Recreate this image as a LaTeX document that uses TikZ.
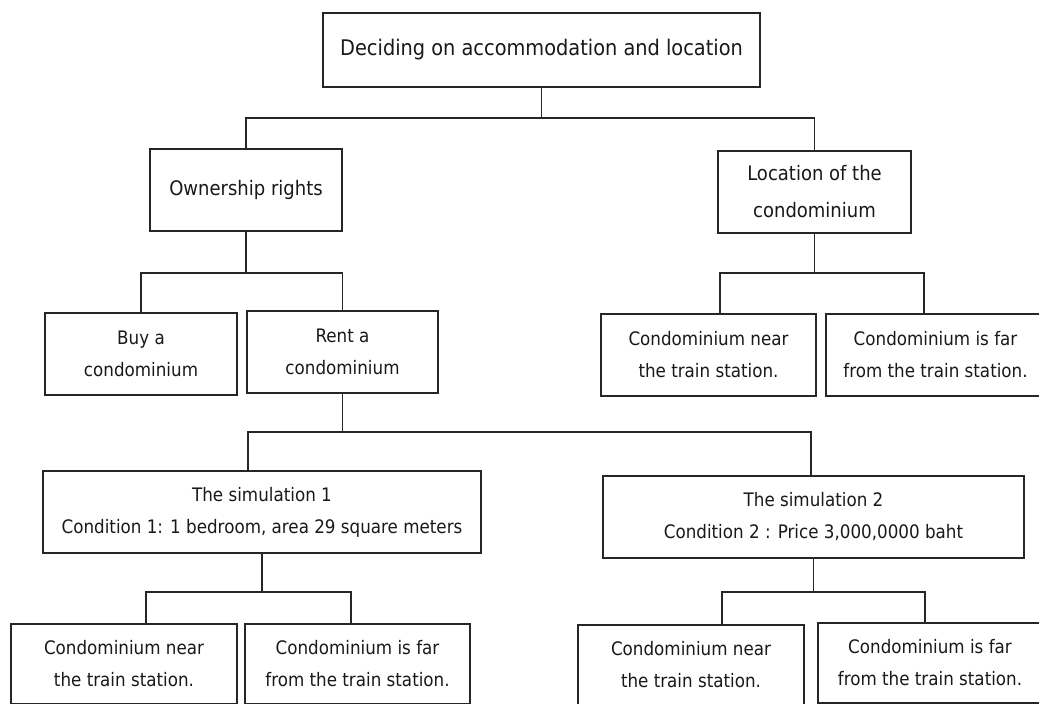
\documentclass[tikz,border=0pt]{standalone}
\usepackage{fontspec}
\setmainfont{DejaVu Sans}[FakeStretch=0.9]
\begin{document}
\begin{tikzpicture}[x=1pt,y=-1pt,
  box/.style={draw=black!85, line width=1.5pt, fill=white, inner sep=0pt,
    align=center, text=black!90, anchor=center,
    font=\fontsize{18.6}{32}\selectfont},
  bigbox/.style={box, font=\fontsize{20}{37}\selectfont},
  link/.style={draw=black!85, line width=1.6pt}]
  \fill[white] (0,0) rectangle (1039,704);
  \useasboundingbox (0,0) rectangle (1039,704);
  \clip (0,0) rectangle (1039,704);

  % boxes
  \node[box, minimum width=437pt, minimum height=74pt,
        font=\fontsize{21.5}{26}\selectfont] (root) at (541.5,50)
        {Deciding on accommodation and location};
  \node[bigbox, minimum width=192pt, minimum height=82pt] (own) at (246,190)
        {Ownership rights};
  \node[bigbox, minimum width=193pt, minimum height=82pt] (loc) at (814.5,192)
        {Location of the\\condominium};
  \node[box, minimum width=192pt, minimum height=82pt] (buy) at (141,354)
        {Buy a\\condominium};
  \node[box, minimum width=191pt, minimum height=82pt] (rent) at (342.5,352)
        {Rent a\\condominium};
  \node[box, minimum width=215pt, minimum height=82pt] (lnear) at (708.5,355)
        {Condominium near\\the train station.};
  \node[box, minimum width=219pt, minimum height=82pt] (lfar) at (935.5,355)
        {Condominium is far\\from the train station.};
  \node[box, minimum width=438pt, minimum height=82pt] (sim1) at (262,512)
        {The simulation 1\\Condition 1: 1 bedroom, area 29 square meters};
  \node[box, minimum width=421pt, minimum height=82pt] (sim2) at (813.5,517)
        {The simulation 2\\Condition 2 : Price 3,000,0000 baht};
  \node[box, minimum width=226pt, minimum height=80pt] (snear) at (124,664)
        {Condominium near\\the train station.};
  \node[box, minimum width=225pt, minimum height=80pt] (sfar) at (357.5,664)
        {Condominium is far\\from the train station.};
  \node[box, minimum width=226pt, minimum height=80pt] (tnear) at (691,665)
        {Condominium near\\the train station.};
  \node[box, minimum width=224pt, minimum height=80pt] (tfar) at (930,663)
        {Condominium is far\\from the train station.};

  % junction points of the tree
  \coordinate (j1) at (541.5,118);
  \coordinate (j2) at (246,273);
  \coordinate (k1) at (720,273);
  \coordinate (k2) at (924,273);
  \coordinate (j3) at (342.5,432);
  \coordinate (m1) at (248,432);
  \coordinate (m2) at (811,432);
  \coordinate (n1) at (146,592);
  \coordinate (n2) at (351,592);
  \coordinate (p1) at (722,592);
  \coordinate (p2) at (925,592);

  % connectors
  \draw[link] (root.south) -- (j1);
  \draw[link] (own.north) |- (j1) -| (loc.north);

  \draw[link] (own.south) -- (j2);
  \draw[link] (buy.north) |- (j2) -| (rent.north);

  \draw[link] (loc.south) -- (loc.south |- k1);
  \draw[link] (k1 |- lnear.north) -- (k1) -- (k2) -- (k2 |- lfar.north);

  \draw[link] (rent.south) -- (j3);
  \draw[link] (m1 |- sim1.north) -- (m1) -- (m2) -- (m2 |- sim2.north);

  \draw[link] (sim1.south) -- (sim1.south |- n1);
  \draw[link] (n1 |- snear.north) -- (n1) -- (n2) -- (n2 |- sfar.north);

  \draw[link] (sim2.south) -- (sim2.south |- p1);
  \draw[link] (p1 |- tnear.north) -- (p1) -- (p2) -- (p2 |- tfar.north);
\end{tikzpicture}
\end{document}
